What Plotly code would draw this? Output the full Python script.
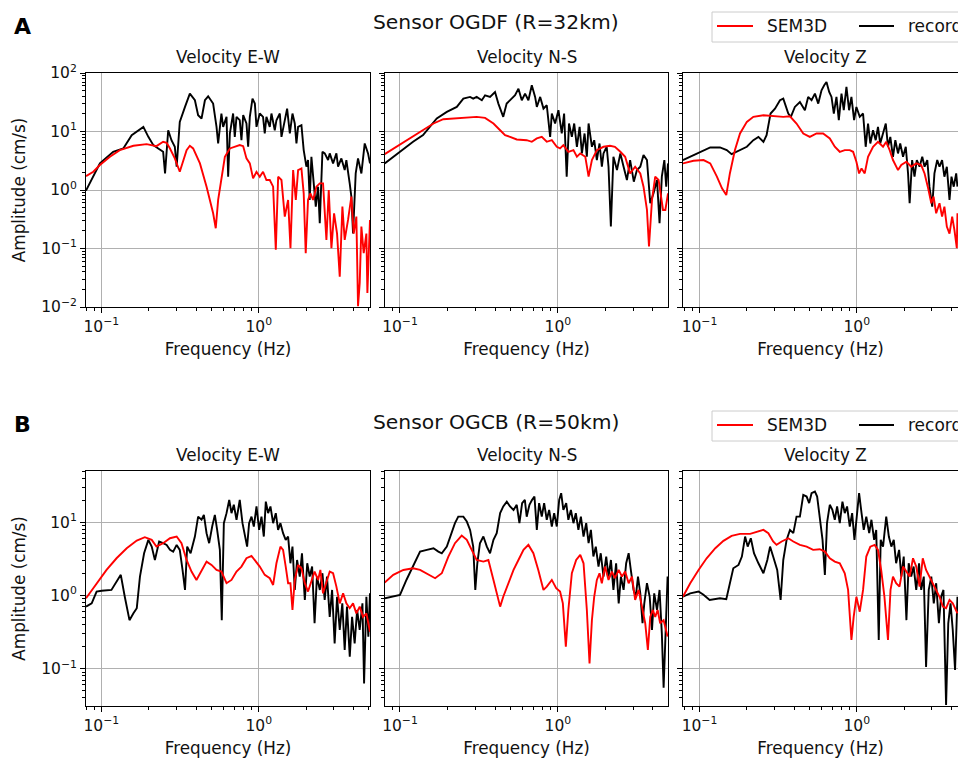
import plotly.graph_objects as go

# ---------------- data (frequency Hz, amplitude cm/s) ----------------
# Row A: Sensor OGDF (R=32km)
a_ew_rec = [(0.080, 0.975), (0.089, 1.69), (0.098, 2.85), (0.119, 4.5), (0.138, 5.13), (0.156, 8.67), (0.168, 9.9),
            (0.185, 12.0), (0.199, 8.1), (0.214, 5.85), (0.230, 5.13), (0.247, 4.5), (0.254, 1.92), (0.266, 10.5),
            (0.279, 7.1), (0.293, 5.48), (0.301, 2.5), (0.315, 14.6), (0.340, 26.3), (0.365, 44.4), (0.393, 34.2),
            (0.412, 19.0), (0.433, 16.7), (0.455, 34.2), (0.477, 40), (0.513, 30), (0.539, 12.0), (0.552, 6.24),
            (0.579, 20.3), (0.594, 12.0), (0.624, 17.8), (0.639, 1.69), (0.655, 9.25), (0.687, 20.3), (0.704, 8.1),
            (0.722, 17.8), (0.757, 15.6), (0.776, 7.1), (0.796, 19.0), (0.835, 13.7), (0.856, 5.48), (0.877, 17.8),
            (0.912, 36.5), (0.944, 30), (0.967, 12.0), (1.014, 20.3), (1.064, 17.8), (1.091, 9.25), (1.118, 17.8),
            (1.174, 12.0), (1.203, 20.3), (1.263, 10.5), (1.294, 15.6), (1.360, 20.3), (1.393, 8.1), (1.462, 15.6),
            (1.513, 24.6), (1.574, 9.25), (1.636, 20.3), (1.692, 13.7), (1.734, 6.24), (1.776, 12.0), (1.865, 12.8),
            (1.928, 4.81), (2.005, 2.5), (2.054, 3.25), (2.105, 0.676), (2.158, 3.7), (2.212, 1.92), (2.300, 0.52),
            (2.379, 1.14), (2.438, 0.27), (2.535, 4.5), (2.622, 4.22), (2.753, 3.25), (2.821, 4.22), (2.962, 2.85),
            (3.109, 4.22), (3.186, 2.5), (3.345, 3.47), (3.510, 2.19), (3.597, 3.25), (3.777, 1.30), (3.870, 0.77),
            (3.966, 0.18), (4.123, 1.92), (4.266, 3.47), (4.480, 1.92), (4.704, 6.24), (4.938, 4.22), (5.08, 2.85)]
a_ew_sem = [(0.080, 1.73), (0.089, 2.05), (0.098, 2.67), (0.1135, 3.7), (0.131, 4.81), (0.160, 5.7), (0.194, 6.08),
            (0.224, 5.62), (0.247, 6.67), (0.260, 6.4), (0.273, 5.13), (0.293, 3.47), (0.315, 2.05), (0.331, 3.25),
            (0.348, 4.81), (0.365, 5.7), (0.383, 5.13), (0.423, 2.85), (0.466, 1.14), (0.513, 0.40), (0.533, 0.222),
            (0.552, 0.676), (0.579, 1.69), (0.609, 3.7), (0.655, 5.13), (0.704, 5.48), (0.757, 5.85), (0.796, 5.62),
            (0.835, 3.47), (0.877, 2.85), (0.920, 1.58), (0.967, 2.05), (1.014, 1.69), (1.064, 2.05), (1.118, 1.48),
            (1.174, 1.48), (1.233, 1.14), (1.282, 0.095), (1.327, 1.69), (1.393, 1.48), (1.462, 0.351), (1.535, 0.676),
            (1.589, 0.101), (1.652, 2.19), (1.718, 0.676), (1.776, 2.19), (1.865, 2.34), (1.928, 0.877), (1.986, 0.083),
            (2.054, 0.676), (2.126, 0.877), (2.212, 0.676), (2.322, 1.14), (2.438, 1.30), (2.558, 1.30), (2.687, 0.14),
            (2.780, 1.0), (2.891, 0.101), (3.006, 0.40), (3.139, 0.18), (3.265, 0.033), (3.394, 0.52), (3.510, 0.14),
            (3.686, 0.308), (3.870, 0.77), (4.005, 0.18), (4.163, 0.351), (4.266, 0.0103), (4.372, 0.0257),
            (4.480, 0.237), (4.636, 0.083), (4.820, 0.18), (4.891, 0.0173), (5.08, 0.308)]
a_ns_rec = [(0.080, 2.85), (0.091, 3.7), (0.105, 5.13), (0.121, 6.67), (0.140, 8.67), (0.155, 12.0), (0.171, 16.7),
            (0.198, 21.6), (0.229, 26.3), (0.252, 36.5), (0.278, 39), (0.291, 36.5), (0.306, 39), (0.330, 34.2),
            (0.346, 41.6), (0.372, 39), (0.400, 47.4), (0.420, 30), (0.451, 17.8), (0.474, 30), (0.498, 34.2),
            (0.536, 41.6), (0.563, 54), (0.591, 34.2), (0.620, 44.4), (0.651, 34.2), (0.684, 61.7), (0.718, 39),
            (0.736, 26.3), (0.773, 39), (0.811, 24.6), (0.851, 28.1), (0.894, 8.1), (0.916, 20.3), (0.961, 13.7),
            (1.009, 23.1), (1.059, 9.25), (1.096, 20.3), (1.138, 1.69), (1.177, 13.7), (1.227, 8.1), (1.270, 13.7),
            (1.321, 5.48), (1.374, 12.0), (1.421, 4.22), (1.477, 9.25), (1.527, 3.7), (1.566, 13.7), (1.644, 5.48),
            (1.700, 7.1), (1.767, 3.25), (1.837, 6.24), (1.901, 2.5), (1.947, 4.22), (2.04, 5.48), (2.095, 2.5),
            (2.168, 0.237), (2.25, 3.7), (2.37, 2.19), (2.49, 4.22), (2.61, 2.5), (2.74, 1.48), (2.87, 3.25),
            (3.03, 1.39), (3.17, 2.19), (3.33, 2.5), (3.49, 3.95), (3.67, 3.25), (3.85, 0.593), (4.04, 0.877),
            (4.25, 1.48), (4.41, 0.27), (4.56, 1.69), (4.73, 3.25), (4.86, 1.14), (4.99, 2.85)]
a_ns_sem = [(0.080, 4.11), (0.095, 5.48), (0.116, 7.6), (0.140, 10.5), (0.163, 13.7), (0.188, 16.2), (0.229, 16.9),
            (0.278, 17.4), (0.306, 17.8), (0.346, 17.1), (0.391, 13.7), (0.431, 10.5), (0.463, 8.67), (0.498, 8.1),
            (0.549, 7.3), (0.635, 7.1), (0.684, 6.67), (0.736, 7.6), (0.791, 8.1), (0.851, 6.67), (0.916, 7.1),
            (0.985, 5.48), (1.033, 5.13), (1.084, 5.85), (1.166, 4.5), (1.256, 4.81), (1.321, 3.7), (1.387, 4.22),
            (1.493, 3.7), (1.566, 1.69), (1.644, 3.25), (1.767, 4.81), (1.947, 5.48), (2.14, 5.7), (2.30, 5.48),
            (2.49, 4.5), (2.67, 3.7), (2.87, 1.92), (3.09, 2.5), (3.33, 1.92), (3.49, 1.14), (3.67, 0.456),
            (3.78, 0.108), (3.95, 0.676), (4.14, 1.69), (4.35, 1.48), (4.64, 0.456), (4.80, 0.456), (4.99, 0.877)]
a_z_rec = [(0.0784, 3.25), (0.0916, 3.95), (0.106, 4.81), (0.117, 5.34), (0.135, 5.34), (0.149, 4.81), (0.160, 4.1),
           (0.172, 4.5), (0.200, 5.48), (0.220, 7.1), (0.237, 8.1), (0.255, 6.67), (0.267, 8.67), (0.283, 20.3),
           (0.302, 24.6), (0.325, 34.2), (0.341, 36.5), (0.367, 20.3), (0.381, 17.8), (0.404, 26.3), (0.435, 32),
           (0.468, 23.1), (0.491, 39), (0.516, 34.2), (0.542, 44.4), (0.569, 30), (0.597, 50.7), (0.621, 61.7),
           (0.642, 70), (0.668, 47.4), (0.691, 39), (0.715, 20.3), (0.743, 39), (0.769, 15.6), (0.800, 44.4),
           (0.827, 23.1), (0.860, 57.7), (0.894, 23.1), (0.925, 39), (0.962, 15.6), (0.995, 26.3), (1.045, 17.8),
           (1.097, 20.3), (1.14, 5.48), (1.18, 13.7), (1.22, 6.24), (1.27, 10.5), (1.32, 7.1), (1.365, 12.0),
           (1.41, 6.24), (1.47, 9.25), (1.53, 13.7), (1.58, 5.48), (1.635, 8.1), (1.70, 3.7), (1.76, 7.1),
           (1.83, 4.22), (1.89, 6.24), (1.97, 3.7), (2.05, 5.48), (2.12, 1.92), (2.17, 0.593), (2.25, 3.25),
           (2.33, 1.69), (2.41, 3.25), (2.51, 2.5), (2.61, 3.7), (2.70, 2.5), (2.81, 3.25), (2.90, 1.14),
           (3.02, 0.52), (3.12, 1.92), (3.25, 3.25), (3.36, 2.5), (3.49, 3.25), (3.61, 1.69), (3.74, 2.5),
           (3.89, 0.676), (4.005, 1.69), (4.14, 1.14), (4.29, 1.92), (4.37, 1.14)]
a_z_sem = [(0.0784, 2.85), (0.0916, 3.16), (0.106, 3.25), (0.117, 2.85), (0.129, 1.69), (0.139, 1.07), (0.148, 0.82),
           (0.156, 1.92), (0.168, 4.81), (0.181, 9.25), (0.200, 14.6), (0.220, 17.8), (0.255, 19.0), (0.294, 18.5),
           (0.341, 17.8), (0.376, 18.2), (0.414, 13.7), (0.457, 9.25), (0.503, 8.1), (0.555, 9.25), (0.611, 9.25),
           (0.674, 7.6), (0.725, 5.48), (0.780, 4.5), (0.839, 4.81), (0.903, 4.81), (0.948, 4.5), (0.995, 3.04),
           (1.035, 1.92), (1.073, 2.34), (1.124, 1.92), (1.18, 3.7), (1.27, 5.48), (1.365, 6.67), (1.47, 5.48),
           (1.54, 6.67), (1.62, 4.81), (1.70, 3.25), (1.83, 2.19), (1.92, 2.67), (2.07, 3.04), (2.22, 2.5),
           (2.39, 2.85), (2.57, 2.67), (2.70, 1.92), (2.83, 1.14), (2.98, 0.593), (3.08, 0.77), (3.20, 0.40),
           (3.36, 0.593), (3.49, 0.351), (3.61, 0.52), (3.74, 0.237), (3.89, 0.18), (4.045, 0.351), (4.18, 0.208),
           (4.33, 0.101), (4.37, 0.40)]

# Row B: Sensor OGCB (R=50km)
b_ew_rec = [(0.080, 0.704), (0.0869, 0.78), (0.0934, 1.13), (0.1005, 1.16), (0.116, 1.19), (0.125, 1.55), (0.133, 1.91),
            (0.141, 0.96), (0.151, 0.46), (0.160, 0.57), (0.168, 0.67), (0.176, 1.81), (0.187, 3.77), (0.199, 5.74),
            (0.209, 4.64), (0.219, 3.05), (0.233, 5.45), (0.247, 5.17), (0.260, 4.9), (0.273, 4.19), (0.286, 3.97),
            (0.301, 4.9), (0.315, 4.19), (0.328, 2.23), (0.340, 1.19), (0.351, 4.64), (0.369, 3.77), (0.393, 6.37),
            (0.412, 11.9), (0.433, 10.8), (0.448, 12.6), (0.466, 7.08), (0.484, 5.17), (0.506, 8.73), (0.526, 12.6),
            (0.544, 7.85), (0.566, 4.19), (0.582, 0.46), (0.600, 9.7), (0.624, 13.3), (0.649, 20.2), (0.671, 13.3),
            (0.694, 17.3), (0.722, 10.8), (0.757, 20.2), (0.788, 9.7), (0.815, 6.37), (0.843, 4.64), (0.868, 9.7),
            (0.899, 11.9), (0.930, 8.73), (0.967, 16.4), (1.005, 7.85), (1.04, 11.9), (1.076, 6.37), (1.108, 19.1),
            (1.146, 13.3), (1.186, 16.4), (1.233, 9.7), (1.282, 13.3), (1.326, 7.85), (1.372, 9.7), (1.426, 7.08),
            (1.482, 5.74), (1.535, 6.37), (1.588, 2.75), (1.636, 4.64), (1.692, 1.19), (1.75, 3.05), (1.82, 1.81),
            (1.88, 3.77), (1.96, 0.87), (2.03, 2.75), (2.105, 1.81), (2.18, 2.48), (2.26, 0.417), (2.34, 1.81),
            (2.44, 1.19), (2.535, 2.01), (2.62, 0.87), (2.71, 1.81), (2.82, 0.51), (2.92, 1.19), (3.03, 0.222),
            (3.14, 0.96), (3.265, 0.338), (3.39, 0.78), (3.51, 0.18), (3.63, 0.704), (3.78, 0.146), (3.91, 0.51),
            (4.06, 0.222), (4.21, 0.634), (4.37, 0.338), (4.55, 0.78), (4.66, 0.063), (4.82, 0.96), (4.96, 0.274),
            (5.08, 1.07)]
b_ew_sem = [(0.080, 0.915), (0.0934, 1.47), (0.108, 2.23), (0.125, 3.22), (0.145, 4.41), (0.168, 5.61), (0.189, 6.24),
            (0.209, 5.74), (0.224, 4.64), (0.247, 5.17), (0.273, 6.04), (0.301, 6.37), (0.323, 5.17), (0.348, 3.05),
            (0.374, 2.12), (0.402, 1.63), (0.433, 2.23), (0.466, 2.9), (0.501, 2.61), (0.539, 2.23), (0.579, 2.12),
            (0.624, 1.47), (0.671, 1.63), (0.722, 2.12), (0.776, 2.48), (0.835, 3.22), (0.899, 3.47), (0.944, 3.05),
            (1.014, 2.48), (1.091, 1.91), (1.174, 1.72), (1.233, 1.39), (1.294, 2.75), (1.372, 4.64), (1.426, 4.19),
            (1.482, 2.48), (1.535, 1.47), (1.588, 1.47), (1.636, 0.634), (1.692, 1.63), (1.776, 2.61), (1.865, 2.35),
            (1.96, 1.47), (2.054, 1.13), (2.158, 1.63), (2.26, 2.12), (2.38, 1.63), (2.46, 2.23), (2.558, 1.07),
            (2.687, 1.55), (2.82, 2.12), (2.962, 2.01), (3.109, 1.32), (3.265, 0.78), (3.43, 1.07), (3.597, 0.78),
            (3.777, 0.67), (3.966, 0.78), (4.163, 0.57), (4.372, 0.704), (4.59, 0.51), (4.82, 0.57), (4.96, 0.417),
            (5.08, 0.32)]
b_ns_rec = [(0.080, 0.915), (0.0907, 0.96), (0.100, 1.02), (0.110, 1.64), (0.121, 2.48), (0.134, 3.97), (0.148, 4.19),
            (0.163, 4.41), (0.175, 3.97), (0.184, 3.77), (0.198, 4.64), (0.213, 7.08), (0.223, 9.7), (0.234, 11.9),
            (0.252, 11.9), (0.265, 10.2), (0.278, 7.85), (0.291, 4.64), (0.300, 1.19), (0.309, 2.75), (0.321, 5.17),
            (0.3375, 6.37), (0.355, 4.64), (0.372, 3.77), (0.391, 5.74), (0.410, 7.08), (0.431, 13.3), (0.451, 16.4),
            (0.475, 19.1), (0.498, 16.4), (0.524, 14.7), (0.549, 17.3), (0.571, 9.7), (0.594, 18.2), (0.618, 20.2),
            (0.635, 11.9), (0.661, 17.3), (0.687, 20.2), (0.711, 22.4), (0.736, 7.85), (0.761, 18.2), (0.791, 11.9),
            (0.819, 18.2), (0.851, 10.8), (0.881, 14.7), (0.916, 8.73), (0.948, 13.3), (0.985, 8.73), (1.02, 20.2),
            (1.05, 24.9), (1.084, 14.7), (1.13, 18.2), (1.166, 10.8), (1.21, 14.7), (1.256, 9.7), (1.30, 13.3),
            (1.35, 7.85), (1.40, 11.9), (1.455, 6.37), (1.513, 9.7), (1.566, 5.17), (1.62, 7.85), (1.68, 3.4),
            (1.74, 4.64), (1.81, 2.48), (1.87, 3.77), (1.947, 1.81), (2.026, 3.4), (2.095, 1.81), (2.17, 3.05),
            (2.25, 1.19), (2.34, 2.75), (2.43, 0.78), (2.51, 1.81), (2.61, 1.19), (2.71, 2.75), (2.81, 3.77),
            (2.90, 2.23), (3.02, 1.19), (3.12, 0.96), (3.22, 1.81), (3.33, 1.07), (3.44, 0.417), (3.53, 0.78),
            (3.67, 1.47), (3.82, 0.96), (3.95, 0.338), (4.08, 1.07), (4.25, 0.634), (4.41, 1.19), (4.56, 0.304),
            (4.68, 0.055), (4.86, 0.417), (4.96, 1.81)]
b_ns_sem = [(0.080, 1.5), (0.0907, 1.91), (0.105, 2.23), (0.121, 2.35), (0.134, 2.23), (0.151, 1.91), (0.167, 1.72),
            (0.184, 2.01), (0.2025, 3.4), (0.223, 5.17), (0.246, 6.57), (0.265, 5.74), (0.285, 4.19), (0.306, 3.05),
            (0.3375, 2.9), (0.363, 3.05), (0.391, 1.63), (0.431, 0.704), (0.451, 0.96), (0.486, 1.47), (0.524, 2.23),
            (0.5628, 3.05), (0.606, 4.19), (0.651, 4.9), (0.70, 3.77), (0.752, 2.23), (0.811, 1.19), (0.851, 1.32),
            (0.916, 1.63), (0.976, 1.26), (1.033, 1.13), (1.076, 0.78), (1.124, 0.2), (1.166, 0.634), (1.227, 2.01),
            (1.307, 3.05), (1.387, 3.58), (1.455, 2.75), (1.527, 0.634), (1.588, 0.118), (1.644, 0.46), (1.70, 0.96),
            (1.767, 1.63), (1.837, 2.01), (1.90, 1.47), (1.99, 2.48), (2.095, 1.63), (2.2, 2.12), (2.30, 1.72),
            (2.43, 2.23), (2.55, 1.81), (2.67, 2.12), (2.81, 1.47), (2.95, 1.81), (3.09, 0.87), (3.25, 1.19),
            (3.41, 0.704), (3.58, 0.417), (3.72, 0.18), (3.85, 0.51), (4.0, 0.634), (4.14, 0.51), (4.29, 0.634),
            (4.45, 0.417), (4.68, 0.46), (4.96, 0.274)]
b_z_rec = [(0.0784, 0.96), (0.0873, 1.07), (0.0986, 1.13), (0.106, 1.02), (0.116, 0.87), (0.126, 0.89), (0.135, 0.915),
           (0.148, 0.89), (0.156, 1.47), (0.164, 2.35), (0.177, 2.61), (0.186, 3.4), (0.195, 6.37), (0.2025, 4.64),
           (0.212, 6.04), (0.222, 3.77), (0.237, 2.75), (0.255, 2.01), (0.270, 3.05), (0.281, 4.64), (0.294, 3.4),
           (0.312, 2.23), (0.328, 0.87), (0.341, 3.05), (0.358, 5.74), (0.376, 7.85), (0.395, 7.08), (0.414, 11.9),
           (0.435, 11.9), (0.457, 23.6), (0.480, 22.4), (0.498, 18.2), (0.516, 24.9), (0.542, 26.2), (0.560, 22.4),
           (0.582, 11.9), (0.606, 5.74), (0.627, 1.91), (0.647, 9.7), (0.674, 17.3), (0.70, 14.7), (0.725, 10.8),
           (0.750, 16.4), (0.780, 9.7), (0.811, 19.1), (0.839, 13.3), (0.868, 16.4), (0.903, 8.73), (0.935, 13.3),
           (0.967, 5.74), (0.995, 11.9), (1.035, 24.9), (1.073, 13.3), (1.108, 7.85), (1.15, 11.9), (1.20, 7.08),
           (1.24, 10.8), (1.29, 5.74), (1.33, 7.85), (1.38, 0.247), (1.42, 5.74), (1.47, 4.64), (1.54, 11.9),
           (1.60, 6.37), (1.66, 4.64), (1.72, 5.74), (1.78, 2.75), (1.86, 4.19), (1.92, 1.81), (1.99, 3.4),
           (2.07, 0.46), (2.14, 2.75), (2.22, 1.81), (2.30, 2.48), (2.39, 1.19), (2.49, 2.75), (2.57, 1.19),
           (2.67, 1.81), (2.76, 0.106), (2.87, 1.19), (2.98, 1.81), (3.09, 0.78), (3.20, 1.47), (3.33, 0.417),
           (3.44, 0.96), (3.56, 1.19), (3.70, 0.032), (3.82, 0.417), (3.95, 0.78), (4.08, 0.338), (4.22, 0.096),
           (4.37, 0.96)]
b_z_sem = [(0.0784, 0.96), (0.0873, 1.47), (0.0986, 2.23), (0.111, 3.22), (0.126, 4.41), (0.142, 5.56), (0.160, 6.5),
           (0.181, 6.93), (0.21, 6.93), (0.231, 7.45), (0.255, 7.85), (0.274, 7.08), (0.294, 5.45), (0.309, 4.9),
           (0.333, 5.45), (0.367, 6.04), (0.395, 5.45), (0.435, 4.9), (0.480, 4.64), (0.528, 4.19), (0.582, 4.28),
           (0.627, 3.97), (0.674, 3.22), (0.725, 2.9), (0.780, 2.75), (0.839, 2.01), (0.881, 1.19), (0.925, 0.247),
           (0.956, 0.51), (0.995, 0.96), (1.045, 0.60), (1.097, 1.19), (1.15, 3.4), (1.22, 4.64), (1.30, 4.9),
           (1.365, 4.19), (1.43, 2.23), (1.50, 0.96), (1.58, 0.247), (1.64, 1.19), (1.70, 1.81), (1.78, 1.47),
           (1.87, 1.32), (1.97, 2.48), (2.07, 2.12), (2.17, 1.81), (2.28, 3.22), (2.39, 2.48), (2.51, 1.32),
           (2.63, 3.22), (2.76, 2.23), (2.90, 1.81), (3.05, 1.47), (3.20, 1.19), (3.36, 0.96), (3.53, 0.704),
           (3.70, 0.67), (3.89, 0.87), (4.08, 0.78), (4.37, 0.57)]

component_titles = ["Velocity E-W", "Velocity N-S", "Velocity Z"]
row_titles = ["Sensor OGDF (R=32km)", "Sensor OGCB (R=50km)"]
row_letters = ["A", "B"]
series_names = ["SEM3D", "recorded"]
series_colors = ["#ff0000", "#000000"]

x_tickvals = [0.1, 1.0]
x_ticktext = ["10<sup>\u22121</sup>", "10<sup>0</sup>"]
ya_tickvals = [0.01, 0.1, 1.0, 10.0, 100.0]
ya_ticktext = ["10<sup>\u22122</sup>", "10<sup>\u22121</sup>", "10<sup>0</sup>", "10<sup>1</sup>", "10<sup>2</sup>"]
yb_tickvals = [0.1, 1.0, 10.0]
yb_ticktext = ["10<sup>\u22121</sup>", "10<sup>0</sup>", "10<sup>1</sup>"]

x_minor = [m * 10.0 ** e for e in (-2, -1, 0) for m in range(2, 10)]
y_minor = [m * 10.0 ** e for e in (-3, -2, -1, 0, 1, 2) for m in range(2, 10)]

panels = [
    [(a_ew_sem, a_ew_rec), (a_ns_sem, a_ns_rec), (a_z_sem, a_z_rec)],
    [(b_ew_sem, b_ew_rec), (b_ns_sem, b_ns_rec), (b_z_sem, b_z_rec)],
]

# ---------------- layout geometry (window pixels) ----------------
W, H = 958, 761
ML, MR, MT, MB = 86, 0, 73, 55
PW, PH = W - ML - MR, H - MT - MB


def px(x):
    return (x - ML) / PW


def py(y):
    return (H - MB - y) / PH


col_px = [(86, 370), (385, 668), (683, 958)]
col_ranges = [(-1.097, 0.706), (-1.095, 0.698), (-1.105, 0.644)]
col_centers = [228, 526.5, 825]
row_px = [(73, 307), (471, 706)]
row_yranges = [(-2.0, 2.0), (-1.509, 1.699)]
row_ticks = [(ya_tickvals, ya_ticktext), (yb_tickvals, yb_ticktext)]

FONT = "DejaVu Sans"
TXT = "#111111"

fig = go.Figure()
layout = dict(
    width=W, height=H,
    margin=dict(l=ML, r=MR, t=MT, b=MB, autoexpand=False),
    paper_bgcolor="white", plot_bgcolor="white",
    showlegend=False,
    font=dict(family=FONT, color=TXT, size=15),
    template="none",
)

annotations = []
shapes = []
for r in range(2):
    for c in range(3):
        k = r * 3 + c + 1
        sfx = "" if k == 1 else str(k)
        sem, rec = panels[r][c]
        for data, name, color in ((rec, series_names[1], series_colors[1]), (sem, series_names[0], series_colors[0])):
            fig.add_trace(go.Scatter(
                x=[p[0] for p in data], y=[p[1] for p in data], mode="lines", name=name,
                line=dict(color=color, width=1.9), xaxis="x" + sfx, yaxis="y" + sfx,
                showlegend=False))
        x0, x1 = col_px[c]
        ytop, ybot = row_px[r]
        common = dict(
            type="log", showline=True, linecolor="black", linewidth=1,
            ticks="outside", ticklen=5, tickwidth=1, tickcolor="black",
            showgrid=True, gridcolor="#b0b0b0", gridwidth=1, zeroline=False,
            automargin=False, tickfont=dict(family=FONT, size=15.5, color=TXT),
        )
        layout["xaxis" + sfx] = dict(
            common, domain=[px(x0), min(1.0, px(x1))], range=list(col_ranges[c]), anchor="y" + sfx,
            tickmode="array", tickvals=x_tickvals, ticktext=x_ticktext, mirror=True,
            minor=dict(tickmode="array", tickvals=x_minor, ticks="outside", ticklen=3,
                       tickcolor="black", tickwidth=1, showgrid=False),
            title=dict(text="Frequency (Hz)", font=dict(family=FONT, size=16.8, color=TXT), standoff=8),
        )
        yt, ytt = row_ticks[r]
        yax = dict(
            common, domain=[py(ybot), py(ytop)], range=list(row_yranges[r]), anchor="x" + sfx,
            tickmode="array", tickvals=yt, ticktext=ytt, mirror=(c < 2),
            showticklabels=(c == 0),
            minor=dict(tickmode="array", tickvals=y_minor, ticks="outside", ticklen=3,
                       tickcolor="black", tickwidth=1, showgrid=False),
        )
        if c == 0:
            yax["title"] = dict(text="Amplitude (cm/s)", font=dict(family=FONT, size=16.8, color=TXT), standoff=11)
        layout["yaxis" + sfx] = yax
        annotations.append(dict(
            text=component_titles[c], xref="paper", yref="paper", x=px(col_centers[c]),
            y=py(ytop - 16), xanchor="center", yanchor="middle", showarrow=False,
            font=dict(family=FONT, size=16.8, color=TXT)))

title_y = [22, 422]
letter_y = [27, 424]
legend_y = [(12, 42, 26), (411, 441, 425)]
for r in range(2):
    annotations.append(dict(
        text=row_titles[r], xref="paper", yref="paper", x=px(496), y=py(title_y[r]),
        xanchor="center", yanchor="middle", showarrow=False, font=dict(family=FONT, size=20.3, color=TXT)))
    annotations.append(dict(
        text="<b>" + row_letters[r] + "</b>", xref="paper", yref="paper", x=px(22), y=py(letter_y[r]),
        xanchor="center", yanchor="middle", showarrow=False, font=dict(family=FONT, size=22, color="#000")))
    ly0, ly1, lym = legend_y[r]
    shapes.append(dict(type="rect", xref="paper", yref="paper", x0=px(712), x1=px(1010),
                       y0=py(ly1), y1=py(ly0), line=dict(color="#cccccc", width=1), fillcolor="white",
                       layer="above"))
    for (lx0, lx1, tx), name, color in zip([(717, 753, 765), (859, 894, 906)], series_names, series_colors):
        shapes.append(dict(type="line", xref="paper", yref="paper", x0=px(lx0), x1=px(lx1),
                           y0=py(lym), y1=py(lym), line=dict(color=color, width=1.9)))
        annotations.append(dict(
            text=name, xref="paper", yref="paper", x=px(tx), y=py(lym), xanchor="left", yanchor="middle",
            showarrow=False, font=dict(family=FONT, size=17, color=TXT)))

layout["annotations"] = annotations
layout["shapes"] = shapes
fig.update_layout(**layout)
fig.write_html(
    "out.html",
    config={"displayModeBar": False, "staticPlot": True},
    post_script="document.body.style.margin='0';document.documentElement.style.overflow='hidden';",
)
